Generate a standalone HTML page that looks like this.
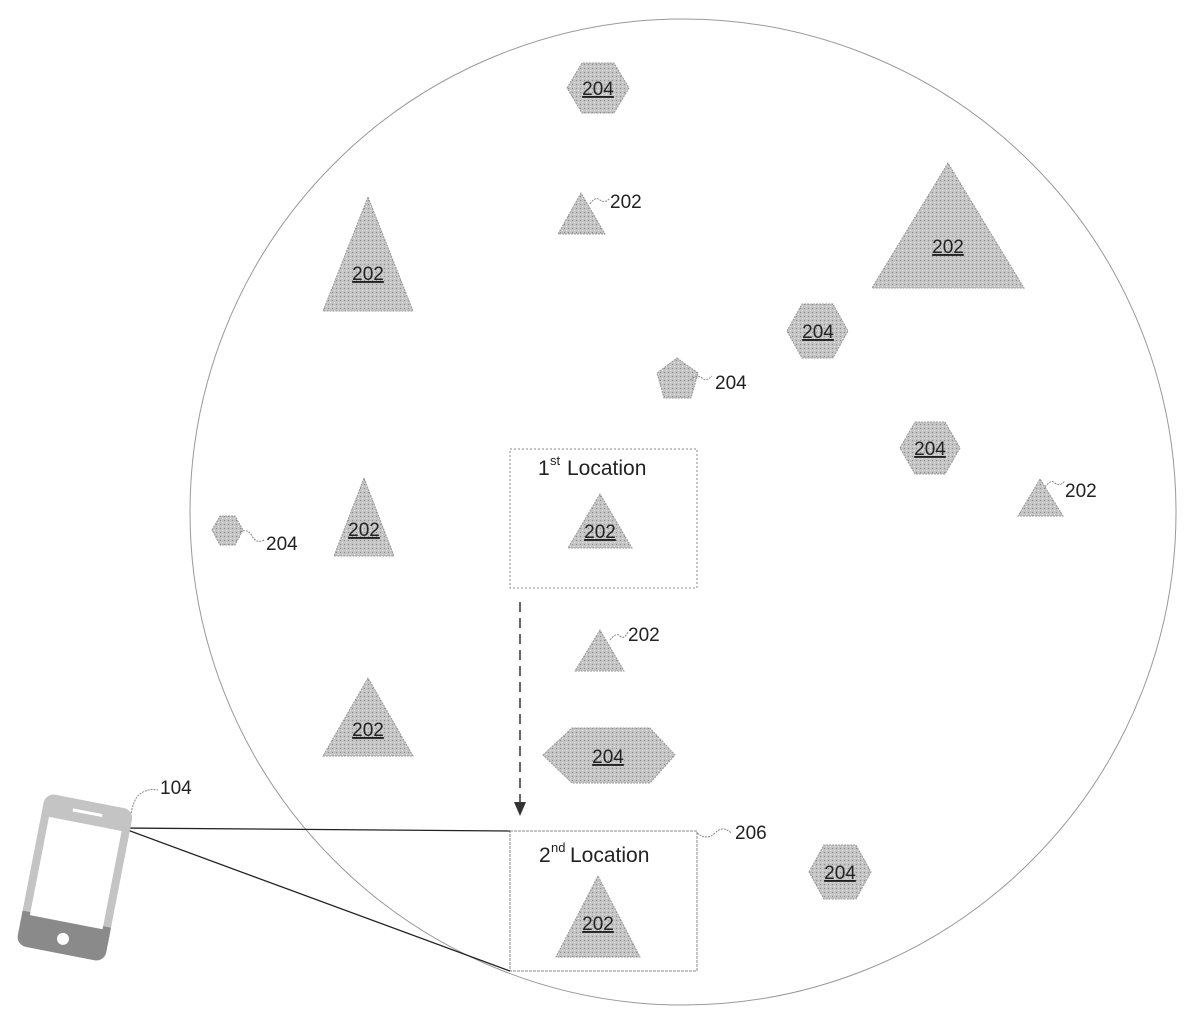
<!DOCTYPE html>
<html><head><meta charset="utf-8"><style>
html,body{margin:0;padding:0;background:#fff;width:1200px;height:1027px;overflow:hidden}
svg{display:block}
text{font-family:"Liberation Sans",sans-serif;fill:#222}
</style></head><body>
<svg width="1200" height="1027" viewBox="0 0 1200 1027" xmlns="http://www.w3.org/2000/svg">
<defs>
<pattern id="st" width="4" height="4" patternUnits="userSpaceOnUse">
<rect width="4" height="4" fill="#c4c4c4"/><rect x="0" y="0" width="1" height="1" fill="#8a8a8a"/><rect x="2" y="2" width="1" height="1" fill="#e8e8e8"/>
</pattern>
</defs>
<circle cx="683" cy="512" r="493" fill="none" stroke="#999" stroke-width="1"/>
<g fill="url(#st)" stroke="#999" stroke-width="1" stroke-dasharray="2,1">
<polygon points="567,88 582,63 614,63 629,88 614,113 582,113"/>
<polygon points="581,193 558,234 605,234"/>
<polygon points="368,197 323,311 413,311"/>
<polygon points="948,163 872,288 1024,288"/>
<polygon points="787,331 802,304 833,304 848,331 833,358 802,358"/>
<polygon points="677,358 698,373 691,398 664,398 657,373"/>
<polygon points="900,448 915,422 945,422 960,448 945,474 915,474"/>
<polygon points="1040,479 1018,516 1063,516"/>
<polygon points="212,530 220,516 235,516 243,530 235,545 220,545"/>
<polygon points="364,478 334,556 394,556"/>
<polygon points="600,494 568,548 632,548"/>
<polygon points="600,630 575,671 624,671"/>
<polygon points="368,678 323,756 413,756"/>
<polygon points="543,755 572,728 650,728 675,755 650,783 572,783"/>
<polygon points="598,876 556,957 640,957"/>
<polygon points="809,872 824,845 856,845 871,872 856,899 824,899"/>
</g>
<g font-size="19" text-anchor="middle">
<text x="598" y="95" text-decoration="underline">204</text>
<text x="368" y="280" text-decoration="underline">202</text>
<text x="948" y="253" text-decoration="underline">202</text>
<text x="818" y="338" text-decoration="underline">204</text>
<text x="930" y="455" text-decoration="underline">204</text>
<text x="364" y="536" text-decoration="underline">202</text>
<text x="600" y="538" text-decoration="underline">202</text>
<text x="368" y="736" text-decoration="underline">202</text>
<text x="608" y="763" text-decoration="underline">204</text>
<text x="598" y="930" text-decoration="underline">202</text>
<text x="840" y="879" text-decoration="underline">204</text>
</g>
<g font-size="19">
<text x="610" y="208">202</text>
<text x="715" y="389">204</text>
<text x="1065" y="497">202</text>
<text x="266" y="550">204</text>
<text x="628" y="641">202</text>
<text x="735" y="839">206</text>
<text x="160" y="794">104</text>
</g>
<g fill="none" stroke="#888" stroke-width="1" stroke-dasharray="2,1">
<path d="M590,204 q5,-8 10,-4 t10,-2"/>
<path d="M690,380 q8,-6 12,-2 t10,-2"/>
<path d="M1045,487 q6,-8 10,-4 t10,-2"/>
<path d="M240,532 q8,-4 12,4 t12,4"/>
<path d="M610,640 q6,-8 10,-4 t8,-4"/>
<path d="M697,833 q10,8 18,0 t16,0"/>
<path d="M130,822 q2,-22 10,-28 t18,-4"/>
</g>
<rect x="510" y="449" width="187" height="139" fill="none" stroke="#888" stroke-width="1" stroke-dasharray="2,2"/>
<rect x="510" y="831" width="187" height="140" fill="none" stroke="#888" stroke-width="1" stroke-dasharray="3,1"/>
<text x="538" y="475" font-size="21">1</text><text x="550" y="465" font-size="13">st</text><text x="567" y="475" font-size="21">Location</text>
<text x="512" y="862" font-size="21" dx="1"> </text>
<text x="513" y="862" font-size="21" dx="0"></text>
<text x="515" y="862" font-size="21"></text>
<text x="514" y="862" font-size="21"></text>
<text x="513" y="862" font-size="21"></text>
<text x="512" y="862" font-size="21"></text>
<text x="511" y="862" font-size="21"></text>
<text x="539" y="862" font-size="21">2</text><text x="551" y="852" font-size="13">nd</text><text x="570" y="862" font-size="21">Location</text>
<line x1="520" y1="602" x2="520" y2="803" stroke="#333" stroke-width="1.5" stroke-dasharray="10,6"/>
<polygon points="514,802 526,802 520,816" fill="#333"/>
<line x1="122" y1="828" x2="510" y2="831" stroke="#222" stroke-width="1.3"/>
<line x1="122" y1="828" x2="510" y2="971" stroke="#222" stroke-width="1.3"/>
<g transform="rotate(11 75 877)">
<rect x="30" y="800" width="90" height="155" rx="10" fill="#c4c4c4"/>
<rect x="30" y="920" width="90" height="35" rx="10" fill="#8a8a8a"/>
<rect x="30" y="920" width="90" height="15" fill="#8a8a8a"/>
<rect x="38" y="823" width="74" height="100" fill="#fff"/>
<rect x="60" y="810" width="30" height="3" fill="#fff"/>
<circle cx="75" cy="940" r="6" fill="#fff"/>
</g>
</svg>
</body></html>
